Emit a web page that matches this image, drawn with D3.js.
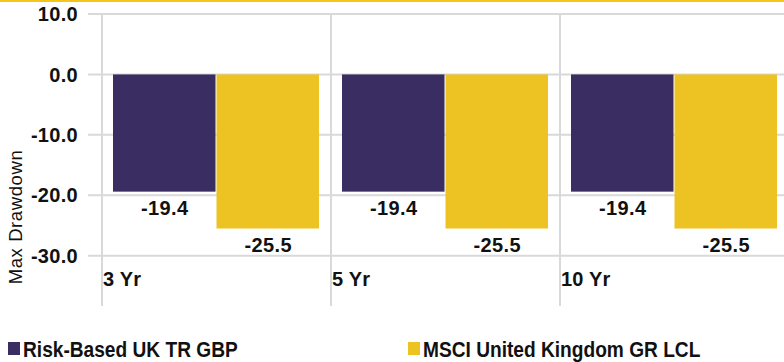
<!DOCTYPE html>
<html>
<head>
<meta charset="utf-8">
<script src="https://cdn.jsdelivr.net/npm/d3@7"></script>
<style>
  html, body { margin: 0; padding: 0; background: #fff; }
  svg { display: block; }
  .lbl { font-family: "Liberation Sans", Arial, sans-serif; font-weight: 600; fill: #111; }
  .leg { font-family: "Liberation Sans", Arial, sans-serif; font-weight: 700; fill: #111; }
</style>
</head>
<body>
<svg id="chart" width="784" height="362"></svg>
<script>
// Max drawdown by period
const periods = ["3 Yr", "5 Yr", "10 Yr"];
const seriesNames = ["Risk-Based UK TR GBP", "MSCI United Kingdom GR LCL"];
const riskBased = [-19.4, -19.4, -19.4];
const msciUK = [-25.5, -25.5, -25.5];
const yTicks = [10, 0, -10, -20, -30];
const colors = ["#392d62", "#edc323"];

const fmt = v => v.toFixed(1); // plain hyphen for negatives

const svg = d3.select("#chart");
const W = 784;

// top accent rule
svg.append("rect").attr("x", 0).attr("y", 0).attr("width", W).attr("height", 2).attr("fill", "#f5c518");

const y = d3.scaleLinear().domain([-30, 10]).range([255.7, 14]);
const x0 = d3.scaleBand().domain(periods).range([102, 102 + 229 * 3]);
const x1 = d3.scaleBand().domain(seriesNames).range([11, 218]);

const grid = "#d9d9d9";

// horizontal gridlines with ticks
svg.append("g").selectAll("line").data(yTicks).join("line")
  .attr("x1", 88).attr("x2", W)
  .attr("y1", d => y(d)).attr("y2", d => y(d))
  .attr("stroke", grid).attr("stroke-width", 2);

// vertical category separators
svg.append("g").selectAll("line").data(periods).join("line")
  .attr("x1", d => x0(d)).attr("x2", d => x0(d))
  .attr("y1", y(10)).attr("y2", 306)
  .attr("stroke", grid).attr("stroke-width", 2);

// y tick labels
svg.append("g").selectAll("text").data(yTicks).join("text")
  .attr("class", "lbl")
  .attr("x", 78).attr("y", d => y(d))
  .attr("dy", "0.36em")
  .attr("text-anchor", "end")
  .style("font-size", "20px").style("letter-spacing", "0.3px")
  .text(d => fmt(d));

// y axis title
svg.append("text").attr("class", "lbl")
  .attr("transform", "translate(22,217) rotate(-90)")
  .attr("text-anchor", "middle")
  .style("font-size", "18.5px").style("letter-spacing", "0.6px").style("font-weight", "500")
  .text("Max Drawdown");

const rows = periods.map((p, i) => ({
  period: p,
  values: [
    { name: seriesNames[0], value: riskBased[i], color: colors[0] },
    { name: seriesNames[1], value: msciUK[i], color: colors[1] }
  ]
}));

const groups = svg.append("g").selectAll("g").data(rows).join("g")
  .attr("transform", d => `translate(${x0(d.period)},0)`);

groups.selectAll("rect").data(d => d.values).join("rect")
  .attr("x", d => x1(d.name))
  .attr("y", y(0))
  .attr("width", x1.bandwidth() - 1)
  .attr("height", d => y(d.value) - y(0))
  .attr("fill", d => d.color);

groups.selectAll("text.val").data(d => d.values).join("text")
  .attr("class", "lbl val")
  .attr("x", d => x1(d.name) + x1.bandwidth() / 2)
  .attr("y", d => y(d.value) + 23)
  .attr("text-anchor", "middle")
  .style("font-size", "20px").style("letter-spacing", "0.4px")
  .text(d => fmt(d.value));

// category labels
groups.append("text").attr("class", "lbl")
  .attr("x", 1).attr("y", 286)
  .style("font-size", "20px").style("letter-spacing", "0.2px")
  .text(d => d.period);

// legend
const legX = [8, 408];
const leg = svg.append("g").selectAll("g").data(seriesNames).join("g")
  .attr("transform", (d, i) => `translate(${legX[i]},342)`);
leg.append("rect").attr("width", 12).attr("height", 13).attr("fill", (d, i) => colors[i]);
leg.append("text").attr("class", "leg")
  .attr("transform", "translate(15,14.5) scale(0.87,1)")
  .style("font-size", "22px")
  .text(d => d);
</script>
</body>
</html>
